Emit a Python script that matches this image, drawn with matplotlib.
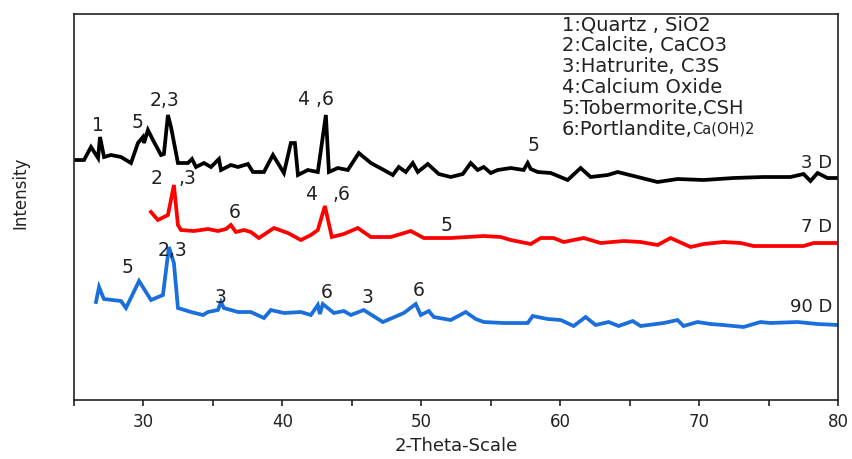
import numpy as np
import matplotlib
matplotlib.use("Agg")
import matplotlib.pyplot as plt
from matplotlib.ticker import MultipleLocator

plt.rcParams['font.family'] = ['DejaVu Sans']

# XRD patterns (2-theta, intensity a.u.)
tt_3d = [25.14, 25.72, 26.22, 26.73, 26.87, 27.16, 27.66, 28.38, 29.10, 29.60, 29.96, 30.04,
         30.32, 30.68, 31.26, 31.47, 31.76, 31.98, 32.48, 33.20, 33.49, 33.78, 34.35, 34.86,
         35.43, 35.58, 36.29, 36.80, 37.52, 37.88, 38.67, 39.32, 40.11, 40.61, 40.90, 41.12,
         41.83, 42.55, 43.13, 43.35, 43.99, 44.71, 45.50, 46.37, 47.30, 47.95, 48.38, 48.88,
         49.39, 49.75, 50.47, 51.26, 52.12, 52.99, 53.56, 54.06, 54.50, 55.00, 55.50, 56.44,
         57.37, 57.66, 57.88, 58.38, 59.32, 60.54, 61.47, 62.19, 63.42, 64.14, 65.58, 67.01,
         68.45, 70.32, 72.48, 74.64, 76.58, 77.52, 78.02, 78.53, 79.24, 80.00]
int_3d = [264, 264, 277, 266, 287, 267, 269, 267, 261, 281, 287, 281,
          294, 284, 269, 270, 309, 297, 261, 261, 265, 257, 261, 257,
          265, 254, 259, 257, 260, 252, 252, 269, 251, 281, 281, 249,
          254, 252, 309, 252, 256, 254, 271, 261, 254, 249, 257, 252,
          261, 252, 260, 250, 247, 250, 261, 254, 257, 251, 254, 256,
          254, 261, 255, 252, 251, 244, 256, 247, 249, 252, 247, 242,
          245, 244, 246, 247, 247, 250, 243, 251, 246, 246]

tt_7d = [30.54, 31.04, 31.76, 32.19, 32.48, 32.70, 33.63, 34.64, 35.36, 35.94, 36.29, 36.65,
         37.23, 37.73, 38.31, 39.39, 40.40, 41.33, 42.05, 42.55, 43.06, 43.56, 44.42, 45.43,
         46.37, 47.81, 49.24, 50.18, 52.12, 54.50, 55.72, 56.44, 57.88, 58.60, 59.53, 60.25,
         61.69, 62.91, 64.57, 65.79, 67.01, 67.95, 69.39, 70.32, 71.76, 72.99, 73.92, 77.52,
         78.24, 79.82]
int_7d = [212, 204, 209, 239, 199, 194, 193, 195, 193, 195, 199, 192,
          194, 192, 186, 196, 191, 184, 189, 194, 218, 187, 190, 196,
          187, 187, 193, 186, 186, 188, 187, 184, 180, 186, 186, 182,
          186, 181, 183, 182, 179, 186, 177, 180, 182, 181, 178, 178,
          181, 181]

tt_90d = [26.58, 26.80, 27.09, 27.16, 28.38, 28.74, 29.68, 30.54, 31.40, 31.83, 32.19, 32.48,
          33.42, 34.28, 34.64, 35.36, 35.58, 35.79, 36.80, 37.73, 38.67, 39.17, 40.11, 41.33,
          42.05, 42.55, 42.70, 42.91, 43.71, 44.42, 44.93, 45.86, 47.23, 48.74, 49.60, 49.96,
          50.54, 50.90, 52.12, 53.20, 53.92, 54.50, 55.94, 57.66, 58.02, 59.10, 60.04, 60.97,
          61.83, 62.55, 63.49, 64.21, 65.22, 65.79, 67.45, 68.45, 68.88, 69.89, 70.83, 71.76,
          73.20, 74.42, 75.14, 77.09, 78.53, 80.00]
int_90d = [122, 137, 127, 125, 123, 116, 143, 124, 129, 177, 161, 116,
           112, 109, 112, 114, 122, 116, 112, 112, 106, 114, 111, 112,
           109, 119, 110, 120, 111, 113, 109, 114, 102, 111, 120, 109,
           113, 107, 104, 112, 105, 102, 101, 101, 108, 105, 104, 98,
           107, 99, 102, 98, 103, 98, 101, 104, 98, 102, 100, 99,
           97, 102, 101, 102, 100, 99]

# peak labels: (text, 2-theta, intensity)
peaks_3d = [("1", 26.73, 299), ("5", 29.55, 302), ("2,3", 31.5, 324), ("4 ,6", 42.4, 325),
            ("5", 58.07, 279)]
peaks_7d = [("2", 30.92, 246), (",3", 33.16, 246), ("6", 36.55, 212), ("4", 42.04, 230),
            (",6", 44.28, 230), ("5", 51.8, 199)]
peaks_90d = [("5", 28.83, 157), ("2,3", 32.08, 174), ("3", 35.54, 127), ("6", 43.2, 132),
             ("3", 46.15, 127), ("6", 49.84, 134)]

phases = ["1:Quartz , SiO2", "2:Calcite, CaCO3", "3:Hatrurite, C3S", "4:Calcium Oxide",
          "5:Tobermorite,CSH", "6:Portlandite,"]

txt = '#222222'

fig = plt.figure(figsize=(8.53, 4.59), dpi=100)
ax = fig.add_axes([0.0868, 0.1285, 0.8956, 0.841])

ax.plot(tt_3d, int_3d, color='black', lw=2.7, solid_joinstyle='miter')
ax.plot(tt_7d, int_7d, color='#ff0000', lw=2.7, solid_joinstyle='miter')
ax.plot(tt_90d, int_90d, color='#1a6fdc', lw=2.7, solid_joinstyle='miter')

for peaks in [peaks_3d, peaks_7d, peaks_90d]:
    for lab, x, y in peaks:
        ax.text(x, y, lab, fontsize=13.5, color=txt, ha='center', va='center')

ax.text(79.6, 261, "3 D", fontsize=13, color=txt, ha='right', va='center')
ax.text(79.6, 197, "7 D", fontsize=13, color=txt, ha='right', va='center')
ax.text(79.6, 117, "90 D", fontsize=13, color=txt, ha='right', va='center')

# phase key
ypos = 399
for p in phases:
    t = ax.text(60.1, ypos, p, fontsize=14, color=txt, ha='left', va='center')
    ypos -= 20.8
ax.annotate("Ca(OH)2", xy=(1, 0.1), xycoords=t, fontsize=10.5, color=txt, ha='left', va='bottom')

ax.set_xlim(25, 80)
ax.set_ylim(24, 410)
ax.xaxis.set_major_locator(MultipleLocator(10))
ax.xaxis.set_minor_locator(MultipleLocator(5))
ax.tick_params(axis='x', which='both', direction='out', length=4, width=1.2, colors='#222222',
               labelsize=12, pad=5)
ax.set_yticks([])
for s in ax.spines.values():
    s.set_linewidth(1.2)
    s.set_color('#222222')

ax.set_xlabel("2-Theta-Scale", fontsize=13, color=txt, labelpad=5)
fig.text(20 / 853, 1 - 193 / 459, "Intensity", rotation=90, fontsize=12, color=txt,
         ha='center', va='center')

plt.savefig('out.png', dpi=100)
